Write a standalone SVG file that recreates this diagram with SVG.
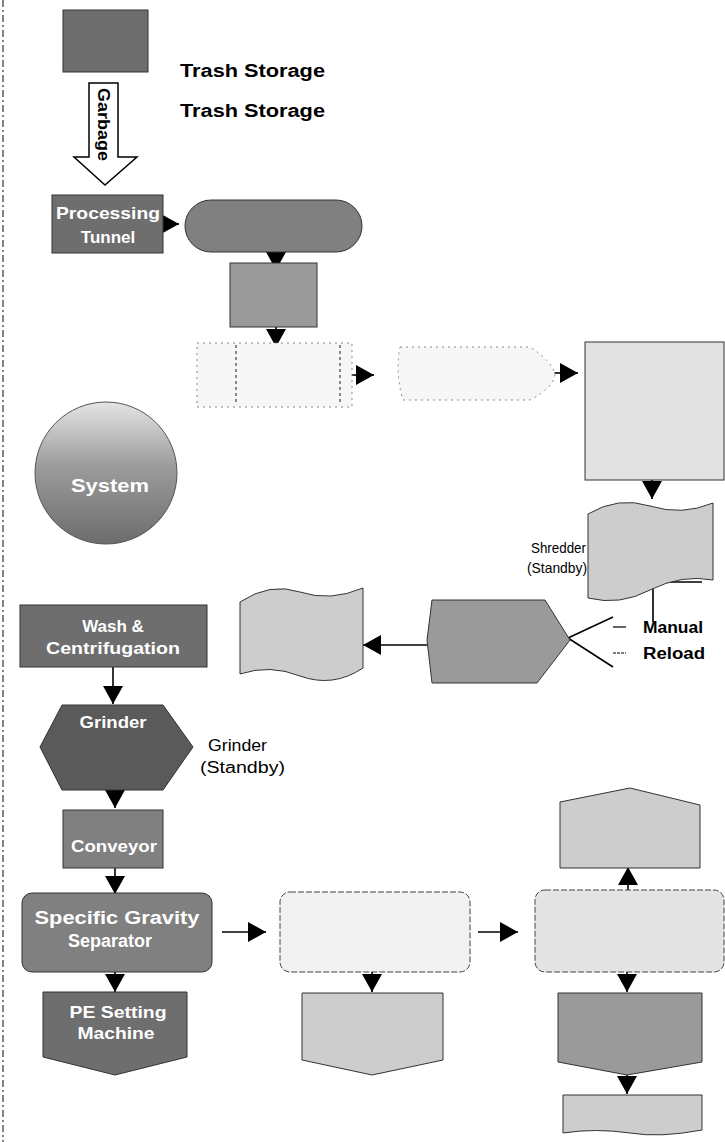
<svg xmlns="http://www.w3.org/2000/svg" width="725" height="1142" viewBox="0 0 725 1142">
<style>
.n{stroke:#333;stroke-width:1}
.d1{fill:#5a5a5a}.d2{fill:#6e6e6e}.d3{fill:#808080}.m1{fill:#9a9a9a}.l1{fill:#cdcdcd}.l2{fill:#e2e2e2}
.p1{fill:#f6f6f6;stroke:#888;stroke-width:1;stroke-dasharray:2 4}
.wt{font-family:"Liberation Sans",Arial,sans-serif;font-weight:bold;fill:#fff;text-anchor:middle}
.bk{font-family:"Liberation Sans",Arial,sans-serif;fill:#000}
.c{fill:none;stroke:#000;stroke-width:1.6}
</style>
<defs>
<marker id="ah" viewBox="0 0 18 20" refX="18" refY="10" markerWidth="18" markerHeight="20" markerUnits="userSpaceOnUse" orient="auto"><path d="M0,0 L18,10 L0,20 z" fill="#000"/></marker>
<linearGradient id="cg" x1="0" y1="0" x2="0" y2="1"><stop offset="0" stop-color="#e4e4e4"/><stop offset="0.45" stop-color="#9c9c9c"/><stop offset="1" stop-color="#6c6c6c"/></linearGradient>
</defs>
<rect width="725" height="1142" fill="#fff"/>
<line x1="3" y1="0" x2="3" y2="1142" stroke="#333" stroke-width="1.2" stroke-dasharray="7 3 2 3"/>

<g id="labels">
<text class="bk" x="180" y="77" font-size="18" font-weight="bold" textLength="145" lengthAdjust="spacingAndGlyphs">Trash Storage</text>
<text class="bk" x="180" y="117" font-size="18" font-weight="bold" textLength="145" lengthAdjust="spacingAndGlyphs">Trash Storage</text>
<text class="bk" x="531" y="553" font-size="15" textLength="55" lengthAdjust="spacingAndGlyphs">Shredder</text>
<text class="bk" x="527" y="573" font-size="15" textLength="60" lengthAdjust="spacingAndGlyphs">(Standby)</text>
<text class="bk" x="643" y="633" font-size="16" font-weight="bold" textLength="60" lengthAdjust="spacingAndGlyphs">Manual</text>
<text class="bk" x="643" y="659" font-size="16" font-weight="bold" textLength="62" lengthAdjust="spacingAndGlyphs">Reload</text>
<text class="bk" x="208" y="751" font-size="16" textLength="59" lengthAdjust="spacingAndGlyphs">Grinder</text>
<text class="bk" x="200" y="773" font-size="16" textLength="85" lengthAdjust="spacingAndGlyphs">(Standby)</text>
</g>

<g id="connectors">
<polygon points="89,83 118,83 118,157 137,157 105,185 74,157 89,157" fill="#fff" stroke="#000" stroke-width="1.5"/>
<text class="bk" transform="translate(98,88) rotate(90)" font-size="16" font-weight="bold" textLength="73" lengthAdjust="spacingAndGlyphs">Garbage</text>
<path class="c" d="M163,224 L179,224" marker-end="url(#ah)"/>
<path class="c" d="M276,250 L276,270" marker-end="url(#ah)"/>
<path class="c" d="M276,327 L276,347" marker-end="url(#ah)"/>
<path class="c" d="M352,375 L374,375" marker-end="url(#ah)"/>
<path class="c" d="M553,373 L578,373" marker-end="url(#ah)"/>
<path class="c" d="M652,480 L652,499" marker-end="url(#ah)"/>
<path class="c" d="M427,645 L363,645" marker-end="url(#ah)"/>
<path class="c" d="M653,582 L702,582 M653,582 L653,622"/>
<path class="c" d="M568,638 L613,617 M568,638 L613,667"/>
<path d="M613,627 L626,627" stroke="#000" stroke-width="1.2"/>
<path d="M613,653 L626,653" stroke="#000" stroke-width="1.2" stroke-dasharray="3 1"/>
<path class="c" d="M113,667 L113,704" marker-end="url(#ah)"/>
<path class="c" d="M115,789 L115,808" marker-end="url(#ah)"/>
<path class="c" d="M115,868 L115,894" marker-end="url(#ah)"/>
<path class="c" d="M115,972 L115,992" marker-end="url(#ah)"/>
<path class="c" d="M222,932 L266,932" marker-end="url(#ah)"/>
<path class="c" d="M372,972 L372,992" marker-end="url(#ah)"/>
<path class="c" d="M478,932 L518,932" marker-end="url(#ah)"/>
<path class="c" d="M628,890 L628,867" marker-end="url(#ah)"/>
<path class="c" d="M627,972 L627,992" marker-end="url(#ah)"/>
<path class="c" d="M627,1075 L627,1094" marker-end="url(#ah)"/>
</g>

<g id="scale"><rect class="n d2" x="63" y="10" width="85" height="62"/></g>
<g id="tunnel"><rect class="n d2" x="52" y="195" width="111" height="58"/>
<text class="wt" x="108" y="219" font-size="17" textLength="104" lengthAdjust="spacingAndGlyphs">Processing</text>
<text class="wt" x="108" y="243" font-size="17">Tunnel</text></g>
<g id="stadium"><rect class="n d3" x="185" y="200" width="177" height="52" rx="26"/></g>
<g id="smallbox"><rect class="n m1" x="230" y="263" width="87" height="64"/></g>
<g id="predefined"><rect class="p1" x="197" y="343" width="155" height="64"/>
<path d="M236,345 V405 M340,345 V405" stroke="#666" stroke-width="1.5" stroke-dasharray="3 3"/></g>
<g id="display"><path class="p1" d="M400,347 L530,347 Q553,362 555,375 Q553,388 530,400 L403,400 Q395,373 400,347 Z"/></g>
<g id="bigbox"><rect class="n l2" x="585" y="342" width="139" height="138"/></g>
<g id="tape-right"><path class="n l1" d="M588,514 Q618,496 650,506 Q682,516 713,503 L713,580 Q682,574 650,590 Q620,606 588,598 Z"/></g>
<g id="shredder"><polygon class="n m1" points="432,600 545,600 570,640 537,683 432,683 427,640"/></g>
<g id="tape-left"><path class="n l1" d="M240,602 Q270,582 300,592 Q330,602 363,588 L363,668 Q333,688 300,676 Q270,664 240,674 Z"/></g>
<g id="circle"><circle cx="106" cy="473" r="71" fill="url(#cg)" stroke="#555" stroke-width="1"/>
<text class="wt" x="110" y="492" font-size="19" textLength="78" lengthAdjust="spacingAndGlyphs">System</text></g>
<g id="wash"><rect class="n d2" x="20" y="605" width="187" height="62"/>
<text class="wt" x="113" y="632" font-size="17">Wash &amp;</text>
<text class="wt" x="113" y="654" font-size="17" textLength="134" lengthAdjust="spacingAndGlyphs">Centrifugation</text></g>
<g id="grinder"><polygon class="n d1" points="62,705 163,705 193,747 163,790 62,790 40,747"/>
<text class="wt" x="113" y="728" font-size="17" textLength="67" lengthAdjust="spacingAndGlyphs">Grinder</text></g>
<g id="conveyor"><rect class="n d3" x="63" y="810" width="100" height="58"/>
<text class="wt" x="114" y="852" font-size="17" textLength="86" lengthAdjust="spacingAndGlyphs">Conveyor</text></g>
<g id="separator"><rect class="n d3" x="22" y="893" width="190" height="79" rx="10"/>
<text class="wt" x="117" y="924" font-size="18" textLength="165" lengthAdjust="spacingAndGlyphs">Specific Gravity</text>
<text class="wt" x="110" y="947" font-size="18">Separator</text></g>
<g id="pe-machine"><polygon class="n d2" points="43,992 187,992 187,1057 115,1075 43,1057"/>
<text class="wt" x="118" y="1018" font-size="17" textLength="97" lengthAdjust="spacingAndGlyphs">PE Setting</text>
<text class="wt" x="116" y="1039" font-size="17" textLength="77" lengthAdjust="spacingAndGlyphs">Machine</text></g>
<g id="middle-box"><rect x="280" y="892" width="190" height="80" rx="10" fill="#f2f2f2" stroke="#444" stroke-width="1" stroke-dasharray="6 2"/></g>
<g id="middle-pent"><polygon class="n l1" points="302,993 443,993 443,1060 372,1075 302,1060"/></g>
<g id="right-box"><rect x="535" y="890" width="189" height="82" rx="10" fill="#e4e4e4" stroke="#444" stroke-width="1" stroke-dasharray="6 2"/></g>
<g id="house"><polygon class="n l1" points="560,802 630,788 700,805 700,868 560,868"/></g>
<g id="right-pent"><polygon class="n m1" points="558,993 702,993 702,1062 627,1075 558,1062"/></g>
<g id="bottom-box"><path class="n l1" d="M563,1095 L702,1095 L702,1130 Q660,1138 630,1133 Q595,1128 563,1133 Z"/></g>
</svg>
